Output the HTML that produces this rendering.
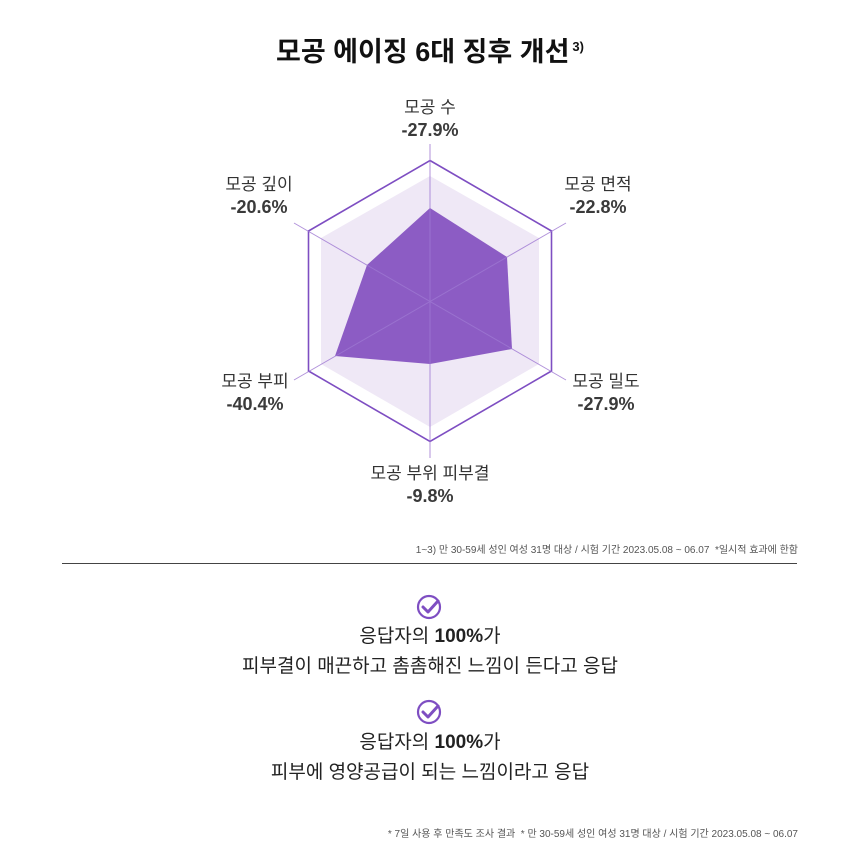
<!DOCTYPE html>
<html><head><meta charset="utf-8"><style>
body{margin:0;width:860px;height:860px;background:#fff;font-family:"Liberation Sans","Noto Sans CJK KR",sans-serif;color:#222;position:relative;overflow:hidden}
.a{position:absolute;text-align:center;white-space:nowrap}
.lab{font-size:17px;color:#333;line-height:22px}
.lab b{font-size:18px;color:#3a3a3a}
</style></head><body>
<div class="a" style="left:0;width:860px;top:30px;font-size:27px;font-weight:bold;color:#111">모공 에이징 6대 징후 개선<sup style="font-size:13px;font-weight:bold;vertical-align:10px;margin-left:3px">3)</sup></div>
<svg width="860" height="860" style="position:absolute;left:0;top:0">
<polygon points="430,176 539,238 539,364 430,427 321,364 321,238" fill="#efe8f6"/>
<polygon points="430,160.5 551.5,231 551.5,371 430,441.5 308.5,371 308.5,231" fill="none" stroke="#7e4ec2" stroke-width="1.6"/>
<polygon points="430,208 507,257 512,349 430,364 335,356 367,265" fill="#8c5cc4"/>
<g stroke="#9e78d2" stroke-width="1" opacity="0.8">
<line x1="430" y1="144" x2="430" y2="458"/>
<line x1="294" y1="223" x2="566" y2="380"/>
<line x1="294" y1="380" x2="566" y2="223"/>
</g>
</svg>
<div class="a lab" style="left:380px;width:100px;top:97px">모공 수<br><b>-27.9%</b></div>
<div class="a lab" style="left:543px;width:110px;top:174px">모공 면적<br><b>-22.8%</b></div>
<div class="a lab" style="left:551px;width:110px;top:371px">모공 밀도<br><b>-27.9%</b></div>
<div class="a lab" style="left:350px;width:160px;top:463px">모공 부위 피부결<br><b>-9.8%</b></div>
<div class="a lab" style="left:200px;width:110px;top:371px">모공 부피<br><b>-40.4%</b></div>
<div class="a lab" style="left:204px;width:110px;top:174px">모공 깊이<br><b>-20.6%</b></div>
<div class="a" style="right:62px;top:541px;font-size:10px;color:#555">1~3) 만 30-59세 성인 여성 31명 대상 / 시험 기간 2023.05.08 ~ 06.07 &nbsp;*일시적 효과에 한함</div>
<div style="position:absolute;left:62px;top:563px;width:735px;height:1px;background:#444"></div>
<svg width="30" height="30" style="position:absolute;left:415px;top:593px"><circle cx="14" cy="14" r="11" fill="none" stroke="#7e4ec2" stroke-width="2.2"/><path d="M8 14 l5 5 l10-11" fill="none" stroke="#7e4ec2" stroke-width="3" stroke-linecap="round" stroke-linejoin="round"/></svg>
<div class="a" style="left:0;width:860px;top:622px;font-size:19px;line-height:30px;color:#222">응답자의 <b>100%</b>가<br>피부결이 매끈하고 촘촘해진 느낌이 든다고 응답</div>
<svg width="30" height="30" style="position:absolute;left:415px;top:698px"><circle cx="14" cy="14" r="11" fill="none" stroke="#7e4ec2" stroke-width="2.2"/><path d="M8 14 l5 5 l10-11" fill="none" stroke="#7e4ec2" stroke-width="3" stroke-linecap="round" stroke-linejoin="round"/></svg>
<div class="a" style="left:0;width:860px;top:728px;font-size:19px;line-height:30px;color:#222">응답자의 <b>100%</b>가<br>피부에 영양공급이 되는 느낌이라고 응답</div>
<div class="a" style="right:62px;top:825px;font-size:10px;color:#555">* 7일 사용 후 만족도 조사 결과 &nbsp;* 만 30-59세 성인 여성 31명 대상 / 시험 기간 2023.05.08 ~ 06.07</div>
</body></html>
